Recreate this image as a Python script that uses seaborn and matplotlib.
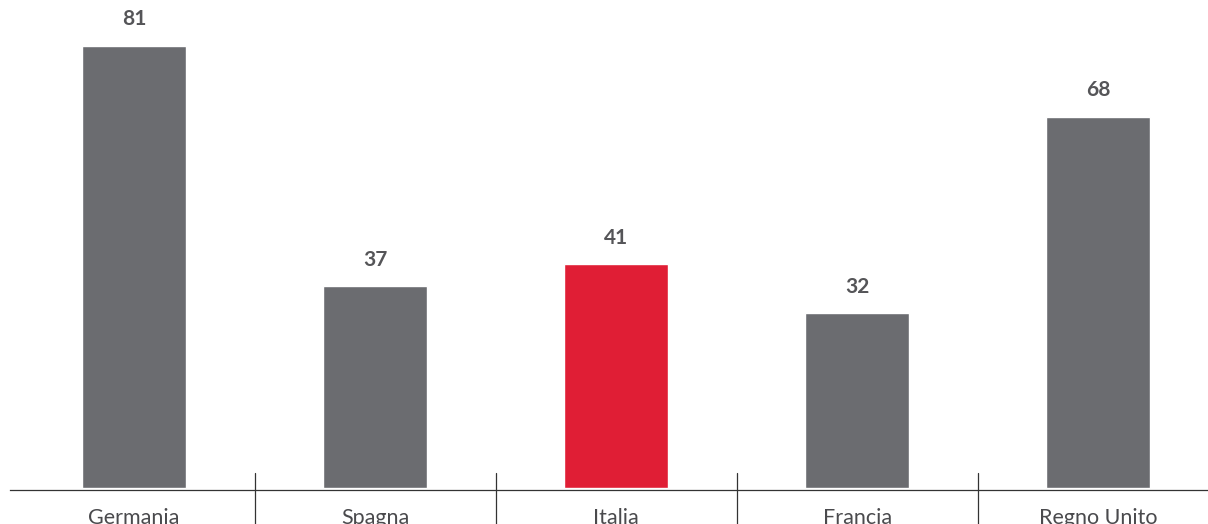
import matplotlib
matplotlib.use("Agg")
import matplotlib.pyplot as plt
import seaborn as sns
import pandas as pd

countries = ["Germania", "Spagna", "Italia", "Francia", "Regno Unito"]
values = [81, 37, 41, 32, 68]
highlight = "Italia"

sns.set_style("white")
plt.rcParams['font.family'] = ['Lato', 'DejaVu Sans']

df = pd.DataFrame({"country": countries, "value": values})
palette = {c: ("#E01E35" if c == highlight else "#6B6C70") for c in countries}

fig = plt.figure(figsize=(12.08, 5.24), dpi=100)
ax = fig.add_axes([10 / 1208, 34 / 524, 1 - 10 / 1208, 490 / 524])
sns.barplot(data=df, x="country", y="value", hue="country", palette=palette,
            width=0.43, saturation=1, legend=False, ax=ax)

ax.set_xlim(-0.515, 4.456)
ax.set_ylim(-0.4, 89.4)
for i, v in enumerate(values):
    ax.text(i, v + 3.0, str(v), ha="center", va="bottom", fontsize=15,
            fontweight="bold", color="#555558")

for k in range(len(countries) - 1):
    ax.axvline(k + 0.5, ymin=-0.07, ymax=0.035, color="#333333", lw=0.9, clip_on=False)

sns.despine(ax=ax, left=True, top=True, right=True)
ax.spines["bottom"].set_color("#333333")
ax.spines["bottom"].set_linewidth(0.9)
ax.set_yticks([])
ax.set_xlabel("")
ax.set_ylabel("")
ax.tick_params(axis="x", length=0, pad=13, labelsize=15.5, labelcolor="#4a4a4d")

fig.savefig("out.png", dpi=100)
